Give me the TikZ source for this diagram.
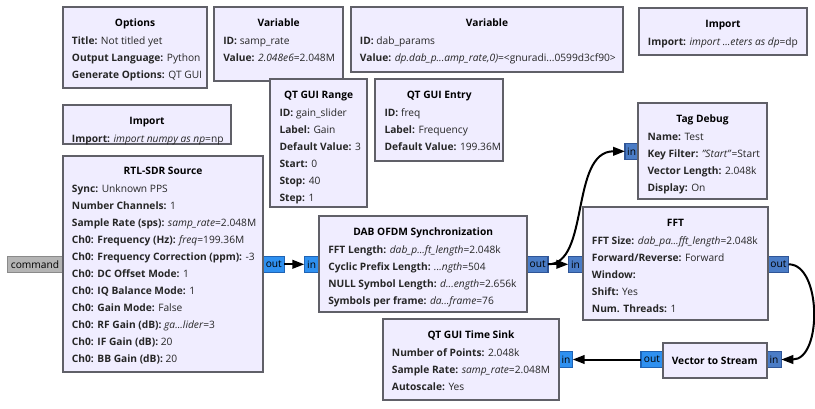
\documentclass[tikz,border=0pt]{standalone}
\usepackage{fontspec}
\setmainfont{Open Sans}
\usetikzlibrary{arrows.meta}
\definecolor{blockfill}{HTML}{F0EDFF}
\definecolor{blockdraw}{HTML}{606068}
\definecolor{portA}{HTML}{2E90F0}
\definecolor{portAd}{HTML}{1F63B4}
\definecolor{portV}{HTML}{4A7CC6}
\definecolor{portVd}{HTML}{2F5597}
\definecolor{portC}{HTML}{B4B4B4}
\definecolor{portCd}{HTML}{8A8A8A}
\newcommand\kk[1]{\textbf{#1:}}
\newcommand\ddd{...}
\newcommand\gblock[7]{%
  \node[blockbox, anchor=north west, minimum width={(#4-#2)*0.75pt}, minimum height={(#5-#3)*0.75pt}] (#1) at (#2,#3) {};
  \node[btitle, anchor=base] (#1-title) at ({(#2+#4)/2},{#3+19}) {#6};
  \foreach \ln [count=\i] in {#7} {\node[bline, anchor=base west] (#1-l\i) at ({#2+9},{#3+20+17*\i}) {\ln};}
}
\newcommand\gport[6]{%
  \node[port, #5, minimum width={(#3-#2)*0.75pt}] (#1) at ({(#2+#3)/2},#4) {#6};
}
\tikzset{
  blockbox/.style={draw=blockdraw, fill=blockfill, line width=1.5pt, inner sep=0, outer sep=0},
  btitle/.style={font=\fontsize{7.65}{9}\selectfont\bfseries, inner sep=0, text=black},
  bline/.style={font=\fontsize{7.65}{9}\selectfont, inner sep=0, text=black!85},
  port/.style={line width=0.8pt, inner sep=0, outer sep=0, minimum height=12.4pt, font=\fontsize{7.65}{9}\selectfont, text=black},
  streamport/.style={fill=portA, draw=portAd},
  vecport/.style={fill=portV, draw=portVd},
  cmdport/.style={fill=portC, draw=portCd},
  conn/.style={line width=1.5pt, draw=black, -{Triangle[length=9pt,width=6.5pt]}}
}
\begin{document}
\begin{tikzpicture}[x=0.75pt,y=-0.75pt]
\fill[white] (0,0) rectangle (815,408);
\useasboundingbox (0,0) rectangle (815,408);
% ports
\gport{cmd}{7.3}{62.7}{264.3}{cmdport}{command}
\gport{rtlout}{263.3}{284.3}{264.3}{streamport}{out}
\gport{dabin}{304.3}{319}{264.3}{streamport}{in}
\gport{dabout}{527.3}{548}{264.3}{vecport}{out}
\gport{fftin}{568.3}{582.7}{264.3}{vecport}{in}
\gport{fftout}{768.3}{788.7}{264.3}{vecport}{out}
\gport{tdin}{625}{638.3}{151.3}{vecport}{in}
\gport{vtsin}{766.7}{781.3}{359.5}{vecport}{in}
\gport{vtsout}{641}{662.7}{359.5}{streamport}{out}
\gport{tsin}{559.3}{572.7}{359.5}{streamport}{in}
% blocks
\gblock{opt}{62.7}{7.3}{207.3}{88.3}{Options}{{\kk{Title} Not titled yet},{\kk{Output Language} Python},{\kk{Generate Options} QT GUI}}
\gblock{var1}{214}{7.3}{343.3}{80.7}{Variable}{{\kk{ID} samp\_rate},{\kk{Value} \textit{2.048e6}=2.048M}}
\gblock{var2}{350.7}{7.3}{623.3}{72.3}{Variable}{{\kk{ID} dab\_params},{\kk{Value} \textit{dp.dab\_p\ddd amp\_rate,0)}=<gnuradi\ddd 0599d3cf90>}}
\gblock{imp1}{638.7}{8.3}{807.3}{55}{Import}{{\kk{Import} \textit{import \ddd eters as dp}=dp}}
\gblock{imp2}{62.7}{105}{231.3}{144}{Import}{{\kk{Import} \textit{import numpy as np}=np}}
\gblock{rng}{270.3}{79.3}{367}{207.3}{QT GUI Range}{{\kk{ID} gain\_slider},{\kk{Label} Gain},{\kk{Default Value} 3},{\kk{Start} 0},{\kk{Stop} 40},{\kk{Step} 1}}
\gblock{ent}{375.3}{79.3}{503.3}{161}{QT GUI Entry}{{\kk{ID} freq},{\kk{Label} Frequency},{\kk{Default Value} 199.36M}}
\gblock{rtl}{62.7}{155.7}{263.3}{371.7}{RTL-SDR Source}{{\kk{Sync} Unknown PPS},{\kk{Number Channels} 1},{\kk{Sample Rate (sps)} \textit{samp\_rate}=2.048M},{\kk{Ch0: Frequency (Hz)} \textit{freq}=199.36M},{\kk{Ch0: Frequency Correction (ppm)} -3},{\kk{Ch0: DC Offset Mode} 1},{\kk{Ch0: IQ Balance Mode} 1},{\kk{Ch0: Gain Mode} False},{\kk{Ch0: RF Gain (dB)} \textit{ga\ddd lider}=3},{\kk{Ch0: IF Gain (dB)} 20},{\kk{Ch0: BB Gain (dB)} 20}}
\gblock{dab}{319}{216}{527.3}{312.3}{DAB OFDM Synchronization}{{\kk{FFT Length} \textit{dab\_p\ddd ft\_length}=2.048k},{\kk{Cyclic Prefix Length} \textit{\ddd ngth}=504},{\kk{NULL Symbol Length} \textit{d\ddd ength}=2.656k},{\kk{Symbols per frame} \textit{da\ddd frame}=76}}
\gblock{td}{638.3}{103.3}{766.7}{199.3}{Tag Debug}{{\kk{Name} Test},{\kk{Key Filter} \textit{"Start"}=Start},{\kk{Vector Length} 2.048k},{\kk{Display} On}}
\gblock{fft}{582.7}{207.3}{768.3}{320}{FFT}{{\kk{FFT Size} \textit{dab\_pa\ddd fft\_length}=2.048k},{\kk{Forward/Reverse} Forward},{\kk{Window}},{\kk{Shift} Yes},{\kk{Num. Threads} 1}}
\gblock{ts}{382.7}{319}{559.3}{400}{QT GUI Time Sink}{{\kk{Number of Points} 2.048k},{\kk{Sample Rate} \textit{samp\_rate}=2.048M},{\kk{Autoscale} Yes}}
\node[blockbox, anchor=north west, minimum width={104*0.75pt}, minimum height={35*0.75pt}] (vts) at (662.7,342.7) {};
\node[btitle, anchor=base] (vts-title) at (714.7,364) {Vector to Stream};
% connections
\draw[conn] (rtlout.east) -- (dabin.west);
\draw[conn] (dabout.east) -- (fftin.west);
\draw[conn] (dabout.east) .. controls +(42,0) and +(-55,0) .. (tdin.west);
\draw[conn] (fftout.east) .. controls +(33,0) and +(41,0) .. (vtsin.east);
\draw[conn] (vtsout.west) -- (tsin.east);
\end{tikzpicture}
\end{document}
